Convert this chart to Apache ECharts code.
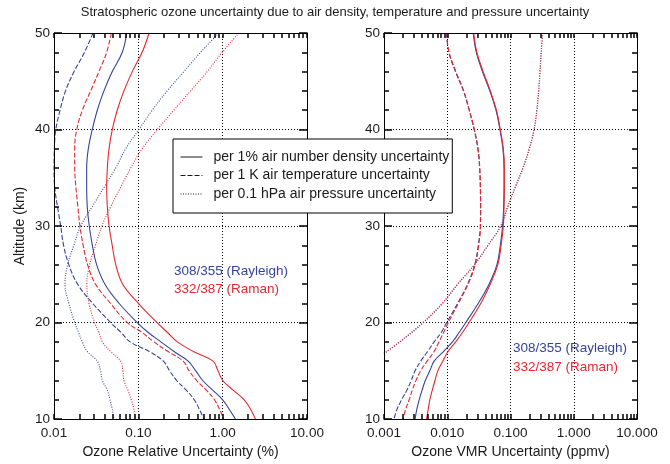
<!DOCTYPE html>
<html>
<head>
<meta charset="utf-8">
<script src="https://cdn.jsdelivr.net/npm/echarts@6/dist/echarts.min.js"></script>
<style>
  html, body { margin: 0; padding: 0; background: #fff; }
  #chart { width: 670px; height: 464px; }
</style>
</head>
<body>
<div id="chart"></div>
<script>
// altitude grid (km) shared by most curves
const ALT = [50, 48, 46, 44, 42, 40, 38, 36, 34, 32, 30, 28, 26, 24, 22, 20, 19, 18, 17, 16, 15, 14, 13, 12, 11, 10]
const ALT_VMR_P = [50, 48, 46, 44, 42, 40, 38, 36, 34, 32, 30, 28, 26, 24, 22, 20, 18, 16.8]

// left panel: ozone relative uncertainty (%)
const REL_DENS_RAY = [0.0726, 0.0645, 0.0491, 0.0391, 0.0326, 0.0284, 0.0255, 0.0244, 0.0244, 0.0248, 0.0262, 0.0285, 0.032, 0.040, 0.059, 0.097, 0.13, 0.185, 0.265, 0.39, 0.48, 0.58, 0.76, 1.0, 1.2, 1.42]
const REL_DENS_RAM = [0.134, 0.111, 0.0848, 0.0675, 0.0562, 0.0491, 0.0449, 0.0429, 0.0421, 0.0429, 0.045, 0.049, 0.054, 0.065, 0.100, 0.167, 0.22, 0.29, 0.45, 0.77, 0.88, 1.0, 1.33, 1.8, 2.15, 2.45]
const REL_TEMP_RAY = [0.029, 0.023, 0.0173, 0.0137, 0.0118, 0.0105, 0.0101, 0.0100, 0.0102, 0.0110, 0.0120, 0.0130, 0.0150, 0.019, 0.0287, 0.047, 0.062, 0.080, 0.135, 0.198, 0.235, 0.285, 0.37, 0.46, 0.53, 0.60]
const REL_TEMP_RAM = [0.0478, 0.0421, 0.0341, 0.0272, 0.0217, 0.0186, 0.0176, 0.0176, 0.0182, 0.0192, 0.0203, 0.0222, 0.025, 0.031, 0.0466, 0.074, 0.11, 0.153, 0.225, 0.34, 0.40, 0.49, 0.64, 0.80, 0.92, 1.03]
const REL_PRES_RAY = [0.902, 0.547, 0.347, 0.220, 0.146, 0.1016, 0.0707, 0.0538, 0.0391, 0.0284, 0.0207, 0.0172, 0.0145, 0.0135, 0.0150, 0.0176, 0.0195, 0.0217, 0.0248, 0.0326, 0.0357, 0.0374, 0.0429, 0.0461, 0.0491, 0.0514]
const REL_PRES_RAM = [1.56, 0.986, 0.656, 0.416, 0.264, 0.168, 0.111, 0.081, 0.0616, 0.0469, 0.037, 0.031, 0.0265, 0.0245, 0.026, 0.0303, 0.034, 0.0374, 0.0469, 0.0616, 0.0657, 0.0675, 0.0753, 0.0825, 0.0887, 0.0912]

// right panel: ozone VMR uncertainty (ppmv)
const VMR_DENS_RAY = [0.0257, 0.0288, 0.036, 0.047, 0.059, 0.068, 0.076, 0.079, 0.079, 0.078, 0.075, 0.069, 0.061, 0.046, 0.031, 0.0196, 0.0155, 0.0121, 0.0087, 0.0062, 0.0053, 0.0045, 0.0040, 0.0036, 0.0033, 0.0031]
const VMR_DENS_RAM = [0.0262, 0.0294, 0.037, 0.048, 0.060, 0.069, 0.077, 0.080, 0.080, 0.079, 0.077, 0.071, 0.063, 0.048, 0.034, 0.0221, 0.0175, 0.0136, 0.0103, 0.0085, 0.0071, 0.0064, 0.0058, 0.0053, 0.0050, 0.0047]
const VMR_TEMP_RAY = [0.0097, 0.0106, 0.0135, 0.018, 0.0222, 0.0266, 0.0305, 0.0325, 0.0333, 0.0336, 0.0333, 0.031, 0.0272, 0.021, 0.0146, 0.0098, 0.0081, 0.0062, 0.0049, 0.0038, 0.0031, 0.0027, 0.0023, 0.0019, 0.0016, 0.00144]
const VMR_TEMP_RAM = [0.0098, 0.0107, 0.0137, 0.0182, 0.0224, 0.0268, 0.0307, 0.0327, 0.0335, 0.0338, 0.0336, 0.0313, 0.0276, 0.0214, 0.0150, 0.0104, 0.0088, 0.0074, 0.0062, 0.0048, 0.0038, 0.0032, 0.0028, 0.0025, 0.0022, 0.0020]
const VMR_PRES_RAY = [0.32, 0.305, 0.292, 0.278, 0.26, 0.235, 0.197, 0.156, 0.118, 0.09, 0.070, 0.044, 0.027, 0.0148, 0.0085, 0.0042, 0.0018, 0.001]
const VMR_PRES_RAM = [0.322, 0.307, 0.294, 0.28, 0.262, 0.237, 0.199, 0.158, 0.119, 0.091, 0.070, 0.044, 0.027, 0.0146, 0.0083, 0.0041, 0.00175, 0.001]

const LEGEND_NAMES = [
  'per 1% air number density uncertainty',
  'per 1 K air temperature uncertainty',
  'per 0.1 hPa air pressure uncertainty',
]

const BLUE = '#34449b'
const RED = '#e6282d'
const INK = '#1a1a1a'
const FONT = 'Liberation Sans, Arial, sans-serif'
const DASH = [5, 2]
const DOT = [1, 1.5]

// log tick marks 1..9 per decade
function logTicks(min, max) {
  const out = []
  for (let d = Math.round(Math.log10(min)); d < Math.round(Math.log10(max)); d++) {
    for (let k = 1; k <= 9; k++) out.push(+(k * Math.pow(10, d)).toPrecision(3))
  }
  out.push(max)
  return out
}

const chart = echarts.init(document.getElementById('chart'))

function pairs(vals, alts) { return vals.map((v, i) => [v, alts[i]]) }

function curve(name, vals, alts, color, type, gi) {
  return {
    name,
    type: 'line',
    xAxisIndex: gi * 3,
    yAxisIndex: gi * 3,
    data: pairs(vals, alts),
    showSymbol: false,
    symbol: 'none',
    smooth: 0.4,
    lineStyle: { color, width: 1.1, type },
    itemStyle: { color },
    silent: true,
    z: 3,
  }
}

function xAxes(gi, min, max, digits, title) {
  // frame axes: line + ticks only
  const frame = (position) => ({
    type: 'log', min, max, gridIndex: gi, position, z: 5,
    axisLine: { show: true, lineStyle: { color: '#000' } },
    axisTick: { show: true, inside: true, length: 5, customValues: logTicks(min, max), lineStyle: { color: '#000', width: 1.5 } },
    axisLabel: { show: false },
    splitLine: { show: false },
  })
  return [
    // labels, name and decade grid lines
    {
      type: 'log', min, max, gridIndex: gi, position: 'bottom',
      axisLine: { show: false }, axisTick: { show: false },
      name: title, nameLocation: 'middle', nameGap: 23,
      nameTextStyle: { color: INK, fontSize: 14, fontFamily: FONT },
      axisLabel: { color: INK, fontSize: 13.5, fontFamily: FONT, margin: 7, formatter: v => Number(v).toFixed(digits) },
      splitLine: { show: true, lineStyle: { color: '#000', width: 1, type: [1, 2] } },
    },
    frame('bottom'),
    frame('top'),
  ]
}

function yAxes(gi, withName) {
  const frame = (position) => ({
    type: 'value', min: 10, max: 50, interval: 10, gridIndex: gi, position, z: 5,
    axisLine: { show: true, lineStyle: { color: '#000' } },
    axisTick: { show: true, inside: true, length: 8, lineStyle: { color: '#000', width: 1.5 } },
    minorTick: { show: true, splitNumber: 5, length: 5, lineStyle: { color: '#000', width: 1.5 } },
    axisLabel: { show: false },
    splitLine: { show: false },
  })
  return [
    // labels, name and 10 km grid lines
    {
      type: 'value', min: 10, max: 50, interval: 10, gridIndex: gi, position: 'left',
      axisLine: { show: false }, axisTick: { show: false },
      name: withName ? 'Altitude (km)' : '', nameLocation: 'middle', nameGap: 27,
      nameTextStyle: { color: INK, fontSize: 14, fontFamily: FONT },
      axisLabel: { color: INK, fontSize: 13.5, fontFamily: FONT, margin: 4 },
      splitLine: { show: true, lineStyle: { color: '#000', width: 1, type: [1, 2] } },
    },
    frame('left'),
    frame('right'),
  ]
}

const option = {
  backgroundColor: '#fff',
  animation: false,
  title: {
    text: 'Stratospheric ozone uncertainty due to air density, temperature and pressure uncertainty',
    left: 'center', top: 1,
    textStyle: { color: INK, fontSize: 13, fontWeight: 'normal', fontFamily: FONT },
  },
  grid: [
    { left: 54, top: 33, width: 253, height: 392 },
    { left: 384, top: 33, width: 253, height: 392 },
  ],
  xAxis: [
    ...xAxes(0, 0.01, 10, 2, 'Ozone Relative Uncertainty (%)'),
    ...xAxes(1, 0.001, 10, 3, 'Ozone VMR Uncertainty (ppmv)'),
  ],
  yAxis: [...yAxes(0, true), ...yAxes(1, false)],
  legend: {
    data: LEGEND_NAMES,
    orient: 'vertical',
    left: 173, top: 139,
    padding: [11, 3, 12, 7],
    itemGap: 4.5,
    itemWidth: 22, itemHeight: 14,
    itemStyle: { opacity: 0 },
    lineStyle: { width: 1 },
    backgroundColor: '#fff',
    borderColor: '#000', borderWidth: 1,
    selectedMode: false,
    textStyle: { color: INK, fontSize: 14, fontFamily: FONT, padding: [0, 0, 0, 6] },
    z: 10,
  },
  graphic: [
    { type: 'text', left: 174, top: 264, z: 20, style: { text: '308/355 (Rayleigh)', fill: BLUE, font: '13.5px ' + FONT } },
    { type: 'text', left: 174, top: 282.5, z: 20, style: { text: '332/387 (Raman)', fill: RED, font: '13.5px ' + FONT } },
    { type: 'text', left: 513, top: 341.5, z: 20, style: { text: '308/355 (Rayleigh)', fill: BLUE, font: '13.5px ' + FONT } },
    { type: 'text', left: 513, top: 360, z: 20, style: { text: '332/387 (Raman)', fill: RED, font: '13.5px ' + FONT } },
  ],
  series: [
    // legend entries (black samples)
    curve(LEGEND_NAMES[0], [], [], INK, 'solid', 0),
    curve(LEGEND_NAMES[1], [], [], INK, DASH, 0),
    curve(LEGEND_NAMES[2], [], [], INK, DOT, 0),

    curve('rel dens ray', REL_DENS_RAY, ALT, BLUE, 'solid', 0),
    curve('rel dens ram', REL_DENS_RAM, ALT, RED, 'solid', 0),
    curve('rel temp ray', REL_TEMP_RAY, ALT, BLUE, DASH, 0),
    curve('rel temp ram', REL_TEMP_RAM, ALT, RED, DASH, 0),
    curve('rel pres ray', REL_PRES_RAY, ALT, BLUE, DOT, 0),
    curve('rel pres ram', REL_PRES_RAM, ALT, RED, DOT, 0),

    curve('vmr dens ray', VMR_DENS_RAY, ALT, BLUE, 'solid', 1),
    curve('vmr dens ram', VMR_DENS_RAM, ALT, RED, 'solid', 1),
    curve('vmr temp ray', VMR_TEMP_RAY, ALT, BLUE, DASH, 1),
    curve('vmr temp ram', VMR_TEMP_RAM, ALT, RED, DASH, 1),
    curve('vmr pres ray', VMR_PRES_RAY, ALT_VMR_P, BLUE, DOT, 1),
    curve('vmr pres ram', VMR_PRES_RAM, ALT_VMR_P, RED, DOT, 1),
  ],
}

chart.setOption(option)
</script>
</body>
</html>
